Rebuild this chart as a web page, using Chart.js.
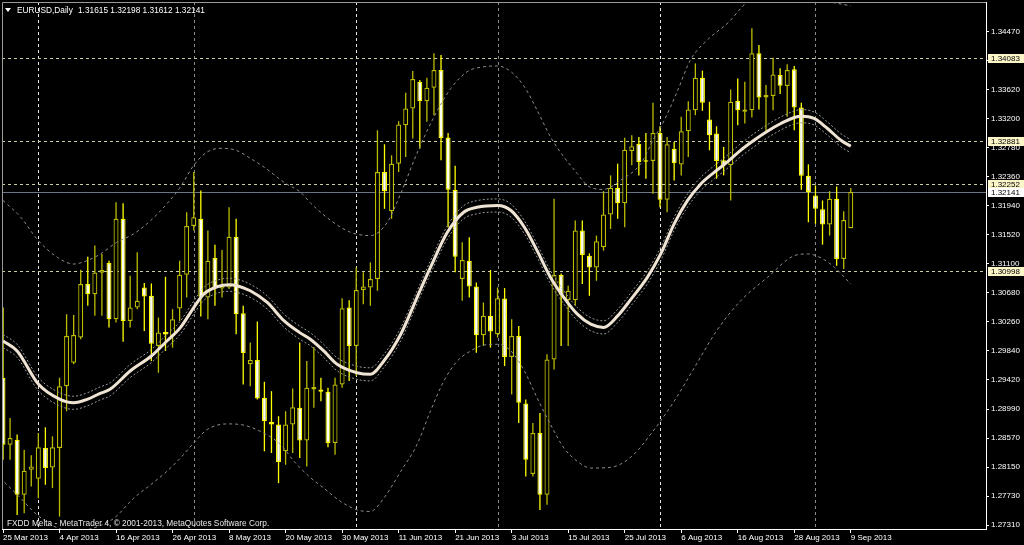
<!DOCTYPE html>
<html>
<head>
<meta charset="utf-8">
<script src="https://cdn.jsdelivr.net/npm/chart.js@4.4.0/dist/chart.umd.min.js"></script>
<style>
  html, body { margin: 0; padding: 0; background: #000; }
</style>
</head>
<body>
<canvas id="chart" width="1024" height="545"></canvas>
<script>
// daily EURUSD candles, 25 Mar 2013 .. 9 Sep 2013 (one entry per trading day)
const opens = [
  1.29445, 1.28475, 1.28548, 1.27748, 1.28111, 1.27980, 1.28427, 1.28145, 1.28427, 1.29324,
  1.29664, 1.30028, 1.30804, 1.30658, 1.30969, 1.31109, 1.30294, 1.31750, 1.30270, 1.30464,
  1.30755, 1.30634, 1.29906, 1.30110, 1.30052, 1.30450, 1.30940, 1.31648, 1.31750, 1.30610,
  1.31182, 1.30741, 1.30755, 1.31492, 1.30382, 1.29640, 1.29703, 1.29154, 1.28805, 1.28766,
  1.28378, 1.28766, 1.29009, 1.28534, 1.29276, 1.29276, 1.29242, 1.28500, 1.29349, 1.30464,
  1.29906, 1.30717, 1.30755, 1.30877, 1.32429, 1.31861, 1.32550, 1.33108, 1.33351, 1.33739,
  1.33457, 1.33651, 1.33908, 1.32929, 1.32172, 1.30877, 1.31143, 1.30770, 1.30062, 1.30343,
  1.30076, 1.30595, 1.29746, 1.30052, 1.29072, 1.28048, 1.28645, 1.27748, 1.29712, 1.30935,
  1.30571, 1.30571, 1.31580, 1.31216, 1.31046, 1.31337, 1.31813, 1.32201, 1.31978, 1.32734,
  1.32841, 1.32599, 1.32589, 1.32996, 1.32026, 1.32768, 1.32540, 1.33021, 1.33326, 1.33797,
  1.33190, 1.32987, 1.32599, 1.32526, 1.33462, 1.33302, 1.33326, 1.34151, 1.33511, 1.33530,
  1.33836, 1.33676, 1.33918, 1.33365, 1.32375, 1.32089, 1.31890, 1.31667, 1.32041, 1.31168,
  1.31615,
];
const highs = [
  1.30464, 1.28863, 1.28621, 1.28402, 1.28320, 1.28645, 1.28727, 1.28596, 1.29446, 1.30367,
  1.30357, 1.31012, 1.31201, 1.31362, 1.31240, 1.31143, 1.31992, 1.31978, 1.30925, 1.31264,
  1.30818, 1.30813, 1.30319, 1.30910, 1.30440, 1.31143, 1.31847, 1.32429, 1.32162, 1.31580,
  1.31376, 1.31298, 1.31919, 1.31750, 1.30488, 1.29955, 1.30260, 1.29387, 1.29251, 1.28888,
  1.28960, 1.29290, 1.29955, 1.29688, 1.29892, 1.29446, 1.29300, 1.29446, 1.30600, 1.30571,
  1.31046, 1.30974, 1.31119, 1.33035, 1.32832, 1.32671, 1.33166, 1.33579, 1.33894, 1.33763,
  1.33797, 1.34151, 1.34127, 1.32996, 1.32521, 1.31410, 1.31483, 1.30828, 1.30537, 1.31008,
  1.30755, 1.30746, 1.30294, 1.30197, 1.29130, 1.28791, 1.28936, 1.29785, 1.32041, 1.30959,
  1.30780, 1.31726, 1.31726, 1.31250, 1.31507, 1.32152, 1.32380, 1.32550, 1.32928, 1.32962,
  1.32938, 1.32996, 1.33433, 1.33093, 1.32938, 1.32865, 1.33229, 1.33457, 1.34005, 1.33899,
  1.33448, 1.33093, 1.32793, 1.33627, 1.33787, 1.33739, 1.34515, 1.34272, 1.33690, 1.34088,
  1.33933, 1.33991, 1.33967, 1.33433, 1.32540, 1.32235, 1.32017, 1.32152, 1.32220, 1.31861,
  1.32198,
];
const lows = [
  1.28257, 1.28257, 1.27456, 1.27481, 1.27869, 1.27699, 1.27893, 1.27845, 1.27432, 1.28960,
  1.29640, 1.30004, 1.30488, 1.30343, 1.30343, 1.30173, 1.30246, 1.29969, 1.30173, 1.30440,
  1.30125, 1.29688, 1.29518, 1.29834, 1.29882, 1.30270, 1.30610, 1.31580, 1.30333, 1.30294,
  1.30488, 1.30610, 1.30731, 1.30076, 1.29348, 1.29324, 1.29130, 1.28378, 1.28354, 1.27917,
  1.28184, 1.28354, 1.28281, 1.28160, 1.29009, 1.29106, 1.28437, 1.28330, 1.29300, 1.29397,
  1.29470, 1.30513, 1.30489, 1.30707, 1.31895, 1.31750, 1.32429, 1.32647, 1.32914, 1.32768,
  1.33157, 1.33254, 1.32599, 1.31628, 1.30974, 1.30561, 1.30610, 1.29809, 1.29906, 1.29882,
  1.30028, 1.29615, 1.29203, 1.28791, 1.28014, 1.28014, 1.27529, 1.27602, 1.29567, 1.29906,
  1.29906, 1.30489, 1.30804, 1.30634, 1.30852, 1.31289, 1.31604, 1.31750, 1.31628, 1.32526,
  1.32380, 1.32332, 1.32114, 1.31919, 1.31847, 1.32308, 1.32380, 1.32647, 1.33254, 1.33317,
  1.32744, 1.32332, 1.32380, 1.32017, 1.33108, 1.33132, 1.33220, 1.33336, 1.33011, 1.33326,
  1.33559, 1.33229, 1.33035, 1.32172, 1.31701, 1.31677, 1.31376, 1.31507, 1.31071, 1.31022,
  1.31612,
];
const closes = [
  1.28475, 1.28572, 1.27748, 1.28097, 1.28160, 1.28436, 1.28136, 1.28436, 1.29324, 1.30052,
  1.30066, 1.30804, 1.30658, 1.30973, 1.31007, 1.30294, 1.31750, 1.30270, 1.30464, 1.30561,
  1.30624, 1.29940, 1.30100, 1.30071, 1.30294, 1.30940, 1.31648, 1.31774, 1.30619, 1.31143,
  1.30745, 1.30779, 1.31492, 1.30367, 1.29804, 1.29703, 1.29145, 1.28815, 1.28766, 1.28223,
  1.28766, 1.29018, 1.28534, 1.29300, 1.29310, 1.29242, 1.28500, 1.29349, 1.30455, 1.29906,
  1.30717, 1.30770, 1.30877, 1.32429, 1.32152, 1.32550, 1.33118, 1.33351, 1.33777, 1.33457,
  1.33651, 1.33908, 1.32924, 1.32172, 1.31202, 1.31153, 1.30770, 1.30062, 1.30343, 1.30115,
  1.30600, 1.29746, 1.30052, 1.29082, 1.28257, 1.28645, 1.27748, 1.29712, 1.30935, 1.30649,
  1.30707, 1.31580, 1.31226, 1.31046, 1.31425, 1.31813, 1.32201, 1.31978, 1.32754, 1.32802,
  1.32574, 1.32579, 1.32996, 1.32026, 1.32831, 1.32560, 1.33021, 1.33336, 1.33797, 1.33433,
  1.32962, 1.32589, 1.32526, 1.33448, 1.33326, 1.33336, 1.34151, 1.33511, 1.33545, 1.33845,
  1.33680, 1.33908, 1.33365, 1.32375, 1.32138, 1.31895, 1.31667, 1.32041, 1.31168, 1.31735,
  1.32141,
];

// moving average and its narrow envelope (bar index, price)
const maX = [
  0, 2, 5, 8, 10, 12, 13.6, 15.2, 18, 21, 23.2, 25.1, 27, 28.4, 30.3, 32, 33.1, 35, 37.4, 39.8,
  42, 43.5, 45.4, 47.3, 50.1, 52, 53.9, 56.3, 58.6, 60.5, 62.9, 65.2, 67.1, 70, 71.9, 73.8, 75.6, 77.5, 79.4, 81.3,
  83.2, 85, 87, 88.9, 91.2, 93.1, 95, 96.9, 98.8, 100.7, 102.5, 104.4, 106.3, 108.2, 110.1, 112, 113, 114.8, 116.7, 118.6,
  120,
];
const maMid = [
  1.29979, 1.29834, 1.29354, 1.29135, 1.29082, 1.29135, 1.29212, 1.29281, 1.29543, 1.29761,
  1.29979, 1.30173, 1.30464, 1.30659, 1.30765, 1.30794, 1.30780, 1.30707, 1.30537, 1.30270,
  1.30100, 1.30004, 1.29834, 1.29640, 1.29518, 1.29495, 1.29688, 1.30077, 1.30609, 1.31046,
  1.31555, 1.31846, 1.31919, 1.31944, 1.31871, 1.31628, 1.31289, 1.30901, 1.30609, 1.30368,
  1.30222, 1.30176, 1.30343, 1.30586, 1.30901, 1.31241, 1.31678, 1.32017, 1.32260, 1.32428,
  1.32574, 1.32744, 1.32890, 1.33021, 1.33133, 1.33220, 1.33239, 1.33206, 1.33060, 1.32890,
  1.32802,
];
const maUp = [
  1.30074, 1.29929, 1.29449, 1.29230, 1.29177, 1.29230, 1.29307, 1.29376, 1.29638, 1.29856,
  1.30074, 1.30268, 1.30559, 1.30754, 1.30860, 1.30889, 1.30875, 1.30802, 1.30632, 1.30365,
  1.30195, 1.30099, 1.29929, 1.29735, 1.29613, 1.29590, 1.29783, 1.30172, 1.30704, 1.31141,
  1.31650, 1.31941, 1.32014, 1.32039, 1.31966, 1.31723, 1.31384, 1.30996, 1.30704, 1.30463,
  1.30317, 1.30271, 1.30438, 1.30681, 1.30996, 1.31336, 1.31773, 1.32112, 1.32355, 1.32523,
  1.32669, 1.32839, 1.32985, 1.33116, 1.33228, 1.33315, 1.33334, 1.33301, 1.33155, 1.32985,
  1.32897,
];
const maDn = [
  1.29884, 1.29739, 1.29259, 1.29040, 1.28987, 1.29040, 1.29117, 1.29186, 1.29448, 1.29666,
  1.29884, 1.30078, 1.30369, 1.30564, 1.30670, 1.30699, 1.30685, 1.30612, 1.30442, 1.30175,
  1.30005, 1.29909, 1.29739, 1.29545, 1.29423, 1.29400, 1.29593, 1.29982, 1.30514, 1.30951,
  1.31460, 1.31751, 1.31824, 1.31849, 1.31776, 1.31533, 1.31194, 1.30806, 1.30514, 1.30273,
  1.30127, 1.30081, 1.30248, 1.30491, 1.30806, 1.31146, 1.31583, 1.31922, 1.32165, 1.32333,
  1.32479, 1.32649, 1.32795, 1.32926, 1.33038, 1.33125, 1.33144, 1.33111, 1.32965, 1.32795,
  1.32707,
];

// wide bands
const bandUpX = [
  0, 2.5, 5, 7.7, 10, 11.9, 13.8, 16.1, 18.5, 20.9, 23.2, 25.1, 27, 28.9, 31, 33, 35, 37, 40, 42.1,
  43.6, 46.4, 49.2, 52, 54.4, 56.3, 58.6, 61, 63.4, 65.7, 68.1, 70, 71.9, 73.8, 75.6, 77.5, 79.4, 81.3, 82.7, 85,
  87.4, 90.3, 92, 93.6, 95.4, 97.3, 99.7, 102.8, 104.5, 106, 110, 114, 117, 120,
];
const bandUp = [
  1.32017, 1.31774, 1.31435, 1.31192, 1.31095, 1.31144, 1.31241, 1.31410, 1.31532, 1.31726,
  1.31969, 1.32210, 1.32526, 1.32720, 1.32773, 1.32744, 1.32628, 1.32497, 1.32264, 1.32137,
  1.31973, 1.31726, 1.31555, 1.31507, 1.31701, 1.32119, 1.32701, 1.33229, 1.33642, 1.33884,
  1.33956, 1.33967, 1.33884, 1.33665, 1.33326, 1.32938, 1.32647, 1.32405, 1.32235, 1.32177,
  1.32308, 1.32555, 1.32890, 1.33181, 1.33588, 1.34054, 1.34345, 1.34611, 1.34811, 1.34956,
  1.35043, 1.34971, 1.34898, 1.34840,
];
const bandLoX = [
  -0.4, 2.5, 4.3, 7, 10, 13, 15.7, 18.5, 20.9, 23.2, 25.1, 27, 28.9, 31.7, 33.6, 36.4, 39.3, 41.2, 43.6, 45.4,
  47.8, 50.1, 52, 53.9, 56.3, 58.6, 60.5, 62.4, 64.3, 66.2, 68.1, 70, 71.9, 73.8, 75.6, 77.5, 79.4, 81.3, 83.2, 86,
  89, 92, 95, 98, 101, 104.4, 108.2, 112, 113.9, 115.8, 117.7, 120,
];
const bandLo = [
  1.27990, 1.27699, 1.27506, 1.27302, 1.27214, 1.27273, 1.27408, 1.27699, 1.27894, 1.28088,
  1.28281, 1.28499, 1.28694, 1.28776, 1.28767, 1.28670, 1.28476, 1.28233, 1.27990, 1.27845,
  1.27651, 1.27530, 1.27506, 1.27699, 1.28088, 1.28476, 1.28961, 1.29397, 1.29688, 1.29834,
  1.29921, 1.29931, 1.29834, 1.29543, 1.29154, 1.28767, 1.28427, 1.28233, 1.28136, 1.28146,
  1.28306, 1.28670, 1.29106, 1.29616, 1.30125, 1.30561, 1.30901, 1.31216, 1.31241, 1.31183,
  1.31046, 1.30804,
];

const dateIdx = [0, 8, 16, 24, 32, 40, 48, 56, 64, 72, 80, 88, 96, 104, 112, 120];
const dateLabels = [
  '25 Mar 2013', '4 Apr 2013', '16 Apr 2013', '26 Apr 2013', '8 May 2013', '20 May 2013',
  '30 May 2013', '11 Jun 2013', '21 Jun 2013', '3 Jul 2013', '15 Jul 2013', '25 Jul 2013',
  '6 Aug 2013', '16 Aug 2013', '28 Aug 2013', '9 Sep 2013',
];
const priceTicks = [
  1.34470, 1.34050, 1.33620, 1.33200, 1.32780, 1.32360, 1.31940, 1.31520, 1.31100,
  1.30680, 1.30260, 1.29840, 1.29420, 1.28990, 1.28570, 1.28150, 1.27730, 1.27310,
];
const levelLines = [1.34083, 1.32881, 1.32252, 1.30998];
const bidPrice = 1.32141;
const monthStarts = [5, 27, 50, 70, 93, 115];
const quote = ['1.31615', '1.32198', '1.31612', '1.32141'];

const FONT = "'Liberation Sans', Arial, sans-serif";
const BULL_EDGE = '#bcbc00';
const BEAR_EDGE = '#ffff00';
const sepColors = ['#e6e6e6', '#8a8a8a', '#e6e6e6', '#8a8a8a', '#e6e6e6', '#8a8a8a'];

const isBull = closes.map((c, i) => c >= opens[i]);
const edgeColors = isBull.map((b) => (b ? BULL_EDGE : BEAR_EDGE));
const fillColors = isBull.map((b) => (b ? '#000000' : '#fffff2'));

const curve = (xs, ys, color, width, dash) => ({
  type: 'line',
  data: xs.map((x, i) => ({ x, y: ys[i] })),
  borderColor: color,
  borderWidth: width,
  borderDash: dash,
  pointRadius: 0,
  cubicInterpolationMode: 'monotone',
  fill: false,
  order: 1,
});

const mt4Frame = {
  id: 'mt4Frame',
  beforeDraw(chart) {
    const { ctx, width, height } = chart;
    ctx.save();
    ctx.fillStyle = '#000000';
    ctx.fillRect(0, 0, width, height);
    ctx.restore();
  },
  beforeDatasetsDraw(chart) {
    const { ctx, chartArea: a, scales: { x, y } } = chart;
    ctx.save();
    ctx.lineWidth = 1;
    ctx.setLineDash([3, 3]);
    monthStarts.forEach((idx, k) => {
      const px = Math.round(x.getPixelForValue(idx)) + 0.5;
      ctx.strokeStyle = sepColors[k];
      ctx.beginPath();
      ctx.moveTo(px, a.top);
      ctx.lineTo(px, a.bottom);
      ctx.stroke();
    });
    ctx.strokeStyle = '#cdcda6';
    levelLines.forEach((v) => {
      const py = Math.round(y.getPixelForValue(v)) + 0.5;
      ctx.beginPath();
      ctx.moveTo(a.left, py);
      ctx.lineTo(a.right, py);
      ctx.stroke();
    });
    ctx.setLineDash([]);
    ctx.strokeStyle = '#6b7586';
    const by = Math.round(y.getPixelForValue(bidPrice)) + 0.5;
    ctx.beginPath();
    ctx.moveTo(a.left, by);
    ctx.lineTo(a.right, by);
    ctx.stroke();
    ctx.restore();
  },
  afterDraw(chart) {
    const { ctx, chartArea: a, scales: { y } } = chart;
    ctx.save();
    // top / left frame
    ctx.strokeStyle = '#9a9a9a';
    ctx.lineWidth = 1;
    ctx.beginPath();
    ctx.moveTo(a.left + 0.5, a.bottom);
    ctx.lineTo(a.left + 0.5, a.top + 0.5);
    ctx.lineTo(a.right, a.top + 0.5);
    ctx.stroke();

    // price tags on the axis
    ctx.font = `8px ${FONT}`;
    ctx.textBaseline = 'middle';
    const tag = (v, bg) => {
      const py = Math.round(y.getPixelForValue(v));
      ctx.fillStyle = bg;
      ctx.fillRect(a.right + 2, py - 4, 38, 9);
      ctx.fillStyle = '#000000';
      ctx.fillText(v.toFixed(5), a.right + 5, py + 0.5);
    };
    levelLines.forEach((v) => tag(v, '#fbf5c8'));
    tag(bidPrice, '#ffffff');

    // header
    ctx.fillStyle = '#ffffff';
    ctx.beginPath();
    ctx.moveTo(5, 8);
    ctx.lineTo(11, 8);
    ctx.lineTo(8, 12);
    ctx.closePath();
    ctx.fill();
    ctx.font = `8.3px ${FONT}`;
    ctx.fillText('EURUSD,Daily', 17, 10.5);
    ctx.fillText(quote.join(' '), 78, 10.5);

    // footer
    ctx.fillStyle = '#e8e8e8';
    ctx.fillText('FXDD Melta - MetaTrader 4, © 2001-2013, MetaQuotes Software Corp.', 7, 523.5);
    ctx.restore();
  },
};

new Chart(document.getElementById('chart'), {
  type: 'bar',
  data: {
    datasets: [
      {
        type: 'bar',
        data: highs.map((h, i) => ({ x: i, y: [lows[i], h] })),
        backgroundColor: edgeColors,
        maxBarThickness: 1.3,
        inflateAmount: 0,
        grouped: false,
        order: 3,
      },
      {
        type: 'bar',
        data: opens.map((o, i) => ({ x: i, y: [o, closes[i]] })),
        backgroundColor: fillColors,
        borderColor: edgeColors,
        borderWidth: 1.25,
        borderSkipped: false,
        maxBarThickness: 5,
        inflateAmount: 0,
        grouped: false,
        order: 2,
      },
      curve(bandUpX, bandUp, '#8c8c8c', 1, [3, 3]),
      curve(bandLoX, bandLo, '#8c8c8c', 1, [3, 3]),
      curve(maX, maUp, '#9a9a9a', 1, [2, 2]),
      curve(maX, maDn, '#9a9a9a', 1, [2, 2]),
      curve(maX, maMid, '#efe4d3', 3, []),
    ],
  },
  options: {
    responsive: false,
    animation: false,
    devicePixelRatio: 1,
    events: [],
    layout: { padding: { left: 2, top: 2, right: 0, bottom: 0 } },
    plugins: {
      legend: { display: false },
      tooltip: { enabled: false },
    },
    scales: {
      x: {
        type: 'linear',
        min: -0.142,
        max: 139.14,
        offset: false,
        grid: {
          drawOnChartArea: false,
          tickLength: 4,
          tickColor: '#ffffff',
          offset: false,
        },
        border: { color: '#ffffff' },
        ticks: {
          color: '#ffffff',
          font: { family: FONT, size: 8 },
          padding: 0,
          align: 'start',
          maxRotation: 0,
          minRotation: 0,
          autoSkip: false,
          callback: (v) => dateLabels[dateIdx.indexOf(v)] ?? '',
        },
        afterBuildTicks: (axis) => {
          axis.ticks = dateIdx.map((v) => ({ value: v }));
        },
        afterFit: (axis) => {
          axis.height = 16;
          axis.paddingLeft = 0;
          axis.paddingRight = 0;
        },
      },
      y: {
        position: 'right',
        min: 1.27252,
        max: 1.34895,
        grid: {
          drawOnChartArea: false,
          tickLength: 3,
          tickColor: '#ffffff',
        },
        border: { color: '#ffffff' },
        ticks: {
          color: '#ffffff',
          font: { family: FONT, size: 8 },
          padding: 2,
          callback: (v) => v.toFixed(5),
        },
        afterBuildTicks: (axis) => {
          axis.ticks = priceTicks.map((v) => ({ value: v }));
        },
        afterFit: (axis) => {
          axis.width = 38;
          axis.paddingTop = 0;
          axis.paddingBottom = 0;
        },
      },
    },
  },
  plugins: [mt4Frame],
});
</script>
</body>
</html>
